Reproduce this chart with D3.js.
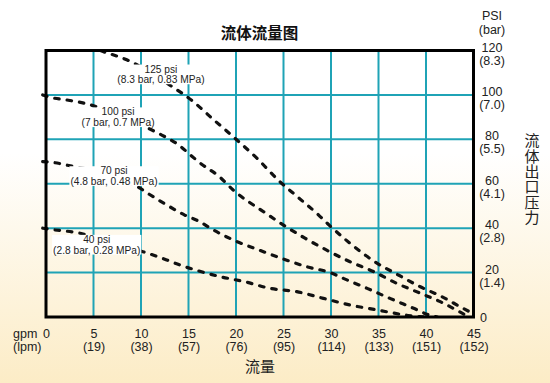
<!DOCTYPE html>
<html><head><meta charset="utf-8">
<script src="https://cdn.jsdelivr.net/npm/d3@7"></script>
<style>body{margin:0;background:#fff} svg{display:block}</style>
</head><body>
<svg id="c" width="550" height="383"></svg>
<script>
// ---- data ----
const gpmTicks = [0,5,10,15,20,25,30,35,40,45];
const lpmLabels = ["","(19)","(38)","(57)","(76)","(95)","(114)","(133)","(151)","(152)"];
const psiTicks = [0,20,40,60,80,100,120];
const barLabels = ["","(1.4)","(2.8)","(4.1)","(5.5)","(7.0)","(8.3)"];
const curveNames = ["125 psi","100 psi","70 psi","40 psi"];
const curveSubs = ["(8.3 bar, 0.83 MPa)","(7 bar, 0.7 MPa)","(4.8 bar, 0.48 MPa)","(2.8 bar, 0.28 MPa)"];
const c125 = [[4.5,122],[5.7,120],[8.5,115.8],[13,104.5],[15.5,97],[17.6,89],[19.7,81.2],[22.2,71.5],[24.6,61],[26.5,54],[28.7,45.9],[29.6,42.2],[32,33.2],[34.6,24.9],[37.1,18.9],[39.4,13.6],[41.7,9.1],[43.9,3.9],[45,1.5]];
const c100 = [[-0.35,100],[0.4,99],[2.5,97.5],[4.3,96],[8,90],[11.7,83],[14.1,77],[15,73.7],[16.2,69.4],[18.3,63],[19.7,57.2],[22.9,47.4],[25,41.4],[27.3,35.4],[29.5,30.2],[32,24.9],[34.5,20.4],[36.9,15.2],[39.4,10.7],[41.5,6.9],[43.8,1.7],[44.5,0]];
const c70 = [[-0.35,70],[0.9,69.5],[2.4,68.2],[5,66],[8,61.5],[9.9,58],[10.6,56],[12.5,51],[14.6,45.9],[16.2,42.9],[17.3,40],[19.7,34.7],[22.2,30.5],[24.8,26.4],[27.4,22.7],[30.1,19.7],[31.3,17.4],[33.8,12.9],[36.2,8.4],[38.7,3.9],[40.4,0.8],[41.2,0]];
const c40 = [[-0.35,40],[0.4,39.5],[3.6,37.7],[7,33],[10.2,29.4],[12.7,25.7],[14.1,23.4],[15.7,21.2],[18.3,18.2],[20.9,15.9],[23.6,12.9],[26.4,11.4],[29.2,8.4],[32,5.4],[34.8,3.2],[37.8,0.9],[39,0.2],[40.5,0]];
const curves = [c125,c100,c70,c40];

// ---- layout ----
const svg = d3.select("#c");
const L=46, R=473.5, T=50.5, B=317;
const x = d3.scaleLinear().domain([0,45]).range([L,R]);
const y = d3.scaleLinear().domain([0,120]).range([B,T]);
const narrow = "'Liberation Sans Narrow','Arial Narrow',sans-serif";
const cjk = "'Noto Sans CJK SC','Noto Sans',sans-serif";

const defs = svg.append("defs");
const grad = defs.append("linearGradient").attr("id","bg").attr("x1",0).attr("y1",0).attr("x2",0).attr("y2",1);
grad.append("stop").attr("offset","0%").attr("stop-color","#ffffff");
grad.append("stop").attr("offset","40%").attr("stop-color","#ffffff");
grad.append("stop").attr("offset","100%").attr("stop-color","#fcecc6");
defs.append("clipPath").attr("id","clip").append("rect").attr("x",40).attr("y",T-1).attr("width",R-40).attr("height",B-T+1);

svg.append("rect").attr("width",550).attr("height",383).attr("fill","url(#bg)");

// grid
const gridColor = "#1fa3b6";
svg.append("g").selectAll("line").data(gpmTicks.slice(1,-1)).join("line")
  .attr("x1",d=>x(d)).attr("x2",d=>x(d)).attr("y1",T).attr("y2",B)
  .attr("stroke",gridColor).attr("stroke-width",2);
svg.append("g").selectAll("line").data(psiTicks.slice(1,-1)).join("line")
  .attr("y1",d=>y(d)).attr("y2",d=>y(d)).attr("x1",L).attr("x2",R)
  .attr("stroke",gridColor).attr("stroke-width",2);

// curves
const line = d3.line().x(d=>x(d[0])).y(d=>y(d[1])).curve(d3.curveMonotoneX);
svg.append("g").attr("clip-path","url(#clip)").selectAll("path").data(curves).join("path")
  .attr("d",line).attr("fill","none").attr("stroke","#111").attr("stroke-width",3.2)
  .attr("stroke-dasharray","4.5,8").attr("stroke-linecap","round");

// curve labels
const anchors = [[12.1,111.7],[7.58,92.4],[7.16,65.9],[5.34,35]];
curveNames.forEach((n,i)=>{
  const g = svg.append("g");
  const cx = x(anchors[i][0]), cy = y(anchors[i][1]);
  const bgRect = g.append("rect").attr("fill","#fff");
  const t = g.append("text").attr("font-family",narrow).attr("font-size",10.2).attr("fill","#222").attr("text-anchor","middle");
  t.append("tspan").attr("x",cx).attr("y",cy+3.6).text(n);
  t.append("tspan").attr("x",cx).attr("y",cy+14.3).text(curveSubs[i]);
  const bb = t.node().getBBox();
  bgRect.attr("x",bb.x-1).attr("y",bb.y+1).attr("width",bb.width+2).attr("height",bb.height-2);
});

// border
svg.append("rect").attr("x",L).attr("y",T).attr("width",R-L).attr("height",B-T)
  .attr("fill","none").attr("stroke","#000").attr("stroke-width",3);

// x axis
const xAxis = d3.axisBottom(x).tickValues(gpmTicks).tickSize(0).tickFormat(d=>d);
const gx = svg.append("g").attr("transform",`translate(0,${B})`).call(xAxis);
gx.select(".domain").remove();
gx.selectAll(".tick text").each(function(d,i){
  const t = d3.select(this).text(null).attr("y",0).attr("dy",null)
    .attr("font-family",narrow).attr("font-size",12.5).attr("fill","#222");
  t.append("tspan").attr("x",0).attr("y",20.5).text(d);
  if (lpmLabels[i]) t.append("tspan").attr("x",0).attr("y",33.5).text(lpmLabels[i]);
});
svg.append("text").attr("x",13).attr("y",B+20.5).attr("font-family",narrow).attr("font-size",12.5).attr("fill","#222").text("gpm");
svg.append("text").attr("x",13).attr("y",B+33.5).attr("font-family",narrow).attr("font-size",12.5).attr("fill","#222").text("(lpm)");

// y axis (right)
const yAxis = d3.axisRight(y).tickValues(psiTicks).tickSize(0).tickFormat(d=>d);
const gy = svg.append("g").attr("transform",`translate(${R},0)`).call(yAxis);
gy.select(".domain").remove();
gy.selectAll(".tick text").each(function(d,i){
  const t = d3.select(this).text(null).attr("x",0).attr("dy",null)
    .attr("font-family",narrow).attr("font-size",12.5).attr("fill","#222").attr("text-anchor","middle");
  if (barLabels[i]) {
    t.append("tspan").attr("x",18.5).attr("y",0.5).text(d);
    t.append("tspan").attr("x",18.5).attr("y",13.5).text(barLabels[i]);
  } else {
    t.append("tspan").attr("x",10).attr("y",4.5).text(d);
  }
});
svg.append("text").attr("x",492).attr("y",20).attr("text-anchor","middle").attr("font-family",narrow).attr("font-size",12.5).attr("fill","#222").text("PSI");
svg.append("text").attr("x",492).attr("y",33.5).attr("text-anchor","middle").attr("font-family",narrow).attr("font-size",12.5).attr("fill","#222").text("(bar)");

// titles
svg.append("text").attr("x",259.5).attr("y",38.5).attr("text-anchor","middle").attr("font-family",cjk)
  .attr("font-weight","bold").attr("font-size",15.5).attr("fill","#111").text("流体流量图");
svg.append("text").attr("x",260).attr("y",372).attr("text-anchor","middle").attr("font-family",cjk)
  .attr("font-size",15).attr("fill","#222").text("流量");
svg.append("text").attr("x",532).attr("y",133).attr("font-family",cjk).attr("font-size",15)
  .attr("fill","#222").style("writing-mode","vertical-rl").style("letter-spacing","0.4px")
  .text("流体出口压力");
</script>
</body></html>
